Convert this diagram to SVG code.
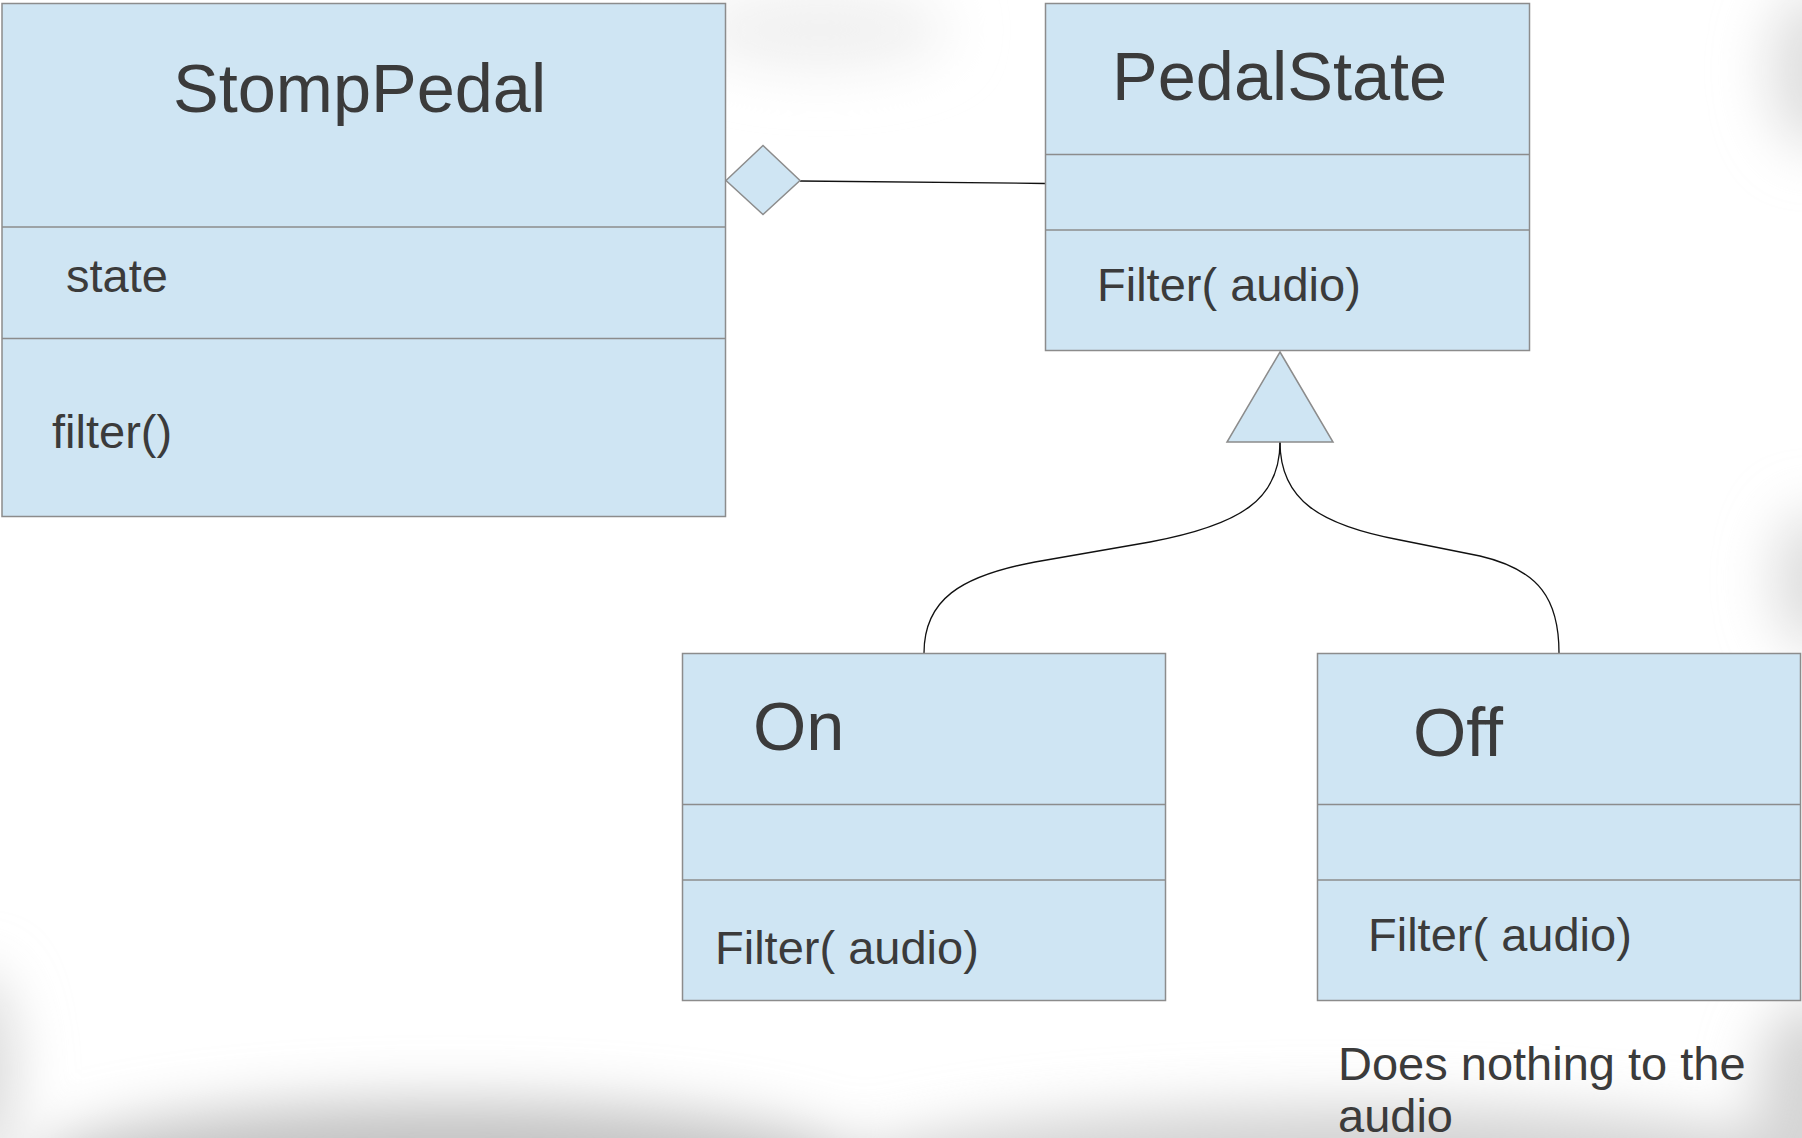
<svg xmlns="http://www.w3.org/2000/svg" width="1802" height="1138" viewBox="0 0 1802 1138">
  <defs>
    <style>
      .box { fill: #cfe5f3; stroke: #8c8c8c; stroke-width: 1.5; }
      .sep { stroke: #8c8c8c; stroke-width: 1.5; fill: none; }
      .title { font-family: "Liberation Sans", Arial, sans-serif; font-size: 68.5px; fill: #3b3b3b; }
      .member { font-family: "Liberation Sans", Arial, sans-serif; font-size: 47px; fill: #3b3b3b; }
      .wire { fill: none; stroke: #111; stroke-width: 1.3; }
      .head { fill: #cfe5f3; stroke: #8c8c8c; stroke-width: 1.5; }
    </style>
    <filter id="haze" x="-50%" y="-50%" width="200%" height="200%">
      <feGaussianBlur stdDeviation="28"/>
    </filter>
  </defs>

  <!-- page background with soft shading along the edges -->
  <rect width="1802" height="1138" fill="#ffffff"/>
  <g filter="url(#haze)">
    <ellipse cx="450" cy="1172" rx="420" ry="70" fill="#c2c2c2"/>
    <ellipse cx="1350" cy="1178" rx="520" ry="72" fill="#d2d2d2"/>
    <ellipse cx="-25" cy="1070" rx="40" ry="100" fill="#dadada"/>
    <ellipse cx="1815" cy="70" rx="45" ry="80" fill="#dedede"/>
    <ellipse cx="1815" cy="580" rx="40" ry="70" fill="#dcdcdc"/>
    <ellipse cx="1812" cy="1090" rx="55" ry="90" fill="#d4d4d4"/>
    <ellipse cx="820" cy="30" rx="130" ry="40" fill="#f0f0f0"/>
  </g>

  <!-- connectors -->
  <g id="connectors">
    <path class="wire" d="M800,181 L1045,183.5"/>
    <path class="wire" d="M1280,442 C1280,500 1240,525 1150,542 L1035,562 C960,576 924,600 924,653"/>
    <path class="wire" d="M1280,442 C1280,500 1320,525 1400,540 L1480,556 C1540,570 1559,600 1559,653"/>
    <polygon class="head" points="726,180.5 763,145.5 800,180.5 763,214.5"/>
    <polygon class="head" points="1280,352 1333,442 1227,442"/>
  </g>

  <g id="StompPedal">
    <rect class="box" x="2" y="3.5" width="723.5" height="513"/>
    <line class="sep" x1="2" y1="227" x2="725.5" y2="227"/>
    <line class="sep" x1="2" y1="338.5" x2="725.5" y2="338.5"/>
    <text class="title" x="173" y="111.5">StompPedal</text>
    <text class="member" x="66" y="291.5">state</text>
    <text class="member" x="52" y="448">filter()</text>
  </g>

  <g id="PedalState">
    <rect class="box" x="1045.5" y="3.5" width="484" height="347"/>
    <line class="sep" x1="1045.5" y1="154.5" x2="1529.5" y2="154.5"/>
    <line class="sep" x1="1045.5" y1="230" x2="1529.5" y2="230"/>
    <text class="title" x="1112" y="99.5">PedalState</text>
    <text class="member" x="1097" y="301">Filter( audio)</text>
  </g>

  <g id="On">
    <rect class="box" x="682.5" y="653.5" width="483" height="347"/>
    <line class="sep" x1="682.5" y1="804.5" x2="1165.5" y2="804.5"/>
    <line class="sep" x1="682.5" y1="880" x2="1165.5" y2="880"/>
    <text class="title" x="753" y="750">On</text>
    <text class="member" x="715" y="963.5">Filter( audio)</text>
  </g>

  <g id="Off">
    <rect class="box" x="1317.5" y="653.5" width="483" height="347"/>
    <line class="sep" x1="1317.5" y1="804.5" x2="1800.5" y2="804.5"/>
    <line class="sep" x1="1317.5" y1="880" x2="1800.5" y2="880"/>
    <text class="title" x="1413" y="756">Off</text>
    <text class="member" x="1368" y="951">Filter( audio)</text>
  </g>

  <g id="note">
    <text class="member" x="1338" y="1080">Does nothing to the</text>
    <text class="member" x="1338" y="1132">audio</text>
  </g>
</svg>
